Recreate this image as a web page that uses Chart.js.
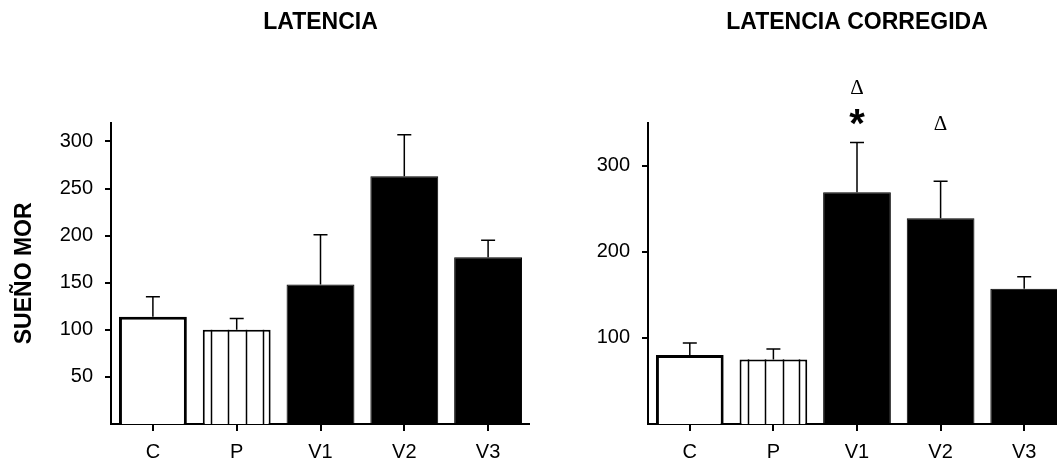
<!DOCTYPE html>
<html>
<head>
<meta charset="utf-8">
<script src="https://cdn.jsdelivr.net/npm/chart.js@4.4.1/dist/chart.umd.min.js"></script>
<style>
  html, body { margin: 0; padding: 0; background: #fff; overflow: hidden; width: 1057px; height: 464px; }
  canvas { position: absolute; top: 0; }
  #latencia { left: 0; }
  #corregida { left: 540px; }
</style>
</head>
<body>
<canvas id="latencia" width="530" height="464"></canvas>
<canvas id="corregida" width="530" height="464"></canvas>
<script>
// Groups: control, placebo and three treatment visits
const groups = ['C', 'P', 'V1', 'V2', 'V3'];

// REM-sleep latency (mean and +SEM)
const latencia = [114, 100, 148, 263, 177];
const latenciaSem = [21, 12, 53, 44, 18];
const latenciaTicks = [50, 100, 150, 200, 250, 300];

// Corrected REM-sleep latency (mean and +SEM)
const corregida = [80, 75, 269, 239, 157];
const corregidaSem = [14, 12, 58, 43, 14];
const corregidaTicks = [100, 200, 300];

// Significance marks over the corrected bars: group index, symbol, height (axis units)
const marcaGrupo = [2, 2, 3];
const marcaSimbolo = ['\u0394', '*', '\u0394'];
const marcaNivel = [391, 356, 350];

const SANS = '"Liberation Sans", Arial, Helvetica, sans-serif';
const SERIF = '"Liberation Serif", "Times New Roman", "DejaVu Serif", serif';

// bar looks: open, vertically striped, solid
const fills = ['#ffffff', '#ffffff', '#000000', '#000000', '#000000'];
const borders = [3, 2, 1, 1, 1];
const striped = [false, true, false, false, false];
const stripeAt = [0.12, 0.375, 0.635, 0.885];

// Draws stripes, upward SEM whiskers and significance symbols
const extras = {
  id: 'extras',
  afterDatasetsDraw(chart, args, opts) {
    const ctx = chart.ctx;
    const y = chart.scales.y;
    const bars = chart.getDatasetMeta(0).data;
    ctx.save();
    ctx.strokeStyle = '#000';
    ctx.fillStyle = '#000';
    bars.forEach((bar, i) => {
      if (striped[i]) {
        ctx.lineWidth = 1.5;
        const left = bar.x - bar.width / 2;
        stripeAt.forEach(f => {
          const sx = Math.round(left + f * bar.width) + 0.5;
          ctx.beginPath();
          ctx.moveTo(sx, bar.y);
          ctx.lineTo(sx, bar.base);
          ctx.stroke();
        });
      }
      const top = y.getPixelForValue(opts.values[i] + opts.sem[i]);
      ctx.lineWidth = 1.5;
      ctx.beginPath();
      ctx.moveTo(bar.x, bar.y);
      ctx.lineTo(bar.x, top);
      ctx.moveTo(bar.x - 7, top);
      ctx.lineTo(bar.x + 7, top);
      ctx.stroke();
    });
    if (opts.marks) {
      ctx.textAlign = 'center';
      ctx.textBaseline = 'alphabetic';
      marcaGrupo.forEach((g, k) => {
        const sym = marcaSimbolo[k];
        ctx.font = sym === '*' ? 'bold 40px ' + SANS : '21px ' + SERIF;
        const m = ctx.measureText(sym);
        const cy = y.getPixelForValue(marcaNivel[k]);
        const by = cy + (m.actualBoundingBoxAscent - m.actualBoundingBoxDescent) / 2;
        ctx.fillText(sym, bars[g].x, by);
      });
    }
    ctx.restore();
  }
};

function makeChart(id, titulo, values, sem, tickVals, maxVal, yTitle, axisWidth, rightPad, marks) {
  return new Chart(document.getElementById(id), {
    type: 'bar',
    data: {
      labels: groups,
      datasets: [{
        data: values,
        backgroundColor: fills,
        borderColor: '#000',
        borderWidth: borders,
        barPercentage: 0.81,
        categoryPercentage: 1
      }]
    },
    options: {
      responsive: false,
      animation: false,
      events: [],
      layout: { padding: { left: 0, right: rightPad, top: 0, bottom: 0 } },
      plugins: {
        legend: { display: false },
        tooltip: { enabled: false },
        title: {
          display: true,
          text: titulo,
          fullSize: false,
          color: '#000',
          font: { family: SANS, size: 23, weight: 'bold' },
          padding: { top: 9, bottom: 86 }
        },
        extras: { values: values, sem: sem, marks: marks }
      },
      scales: {
        x: {
          grid: { display: true, drawOnChartArea: false, drawTicks: true, tickLength: 7, offset: false, color: '#000', lineWidth: 2 },
          border: { display: true, color: '#000', width: 2 },
          ticks: { color: '#000', font: { family: SANS, size: 20 }, padding: 9 },
          afterFit(s) { s.height = 40; }
        },
        y: {
          min: 0,
          max: maxVal,
          afterBuildTicks(s) { s.ticks = tickVals.map(v => ({ value: v })); },
          grid: { display: true, drawOnChartArea: false, drawTicks: true, tickLength: 6, color: '#000', lineWidth: 2 },
          border: { display: true, color: '#000', width: 2 },
          ticks: { color: '#000', font: { family: SANS, size: 20 }, padding: 12 },
          title: {
            display: !!yTitle,
            text: yTitle || '',
            color: '#000',
            font: { family: SANS, size: 23, weight: 'bold' },
            padding: { top: 11, bottom: 0 }
          },
          afterFit(s) { s.width = axisWidth; }
        }
      }
    },
    plugins: [extras]
  });
}

makeChart('latencia', 'LATENCIA', latencia, latenciaSem, latenciaTicks, 320, 'SUEÑO MOR', 111, 0, false);
makeChart('corregida', 'LATENCIA CORREGIDA', corregida, corregidaSem, corregidaTicks, 350, null, 108, 4, true);
</script>
</body>
</html>
